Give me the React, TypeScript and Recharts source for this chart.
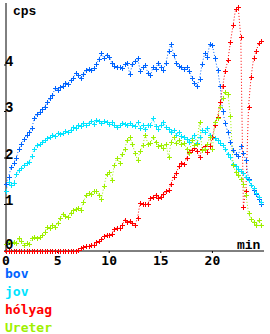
import { Legend, Line, LineChart, XAxis, YAxis } from "recharts"

const minutes = [
  0, 0.25, 0.5, 0.75, 1, 1.25, 1.5, 1.75, 2, 2.25,
  2.5, 2.75, 3, 3.25, 3.5, 3.75, 4, 4.25, 4.5, 4.75,
  5, 5.25, 5.5, 5.75, 6, 6.25, 6.5, 6.75, 7, 7.25,
  7.5, 7.75, 8, 8.25, 8.5, 8.75, 9, 9.25, 9.5, 9.75,
  10, 10.25, 10.5, 10.75, 11, 11.25, 11.5, 11.75, 12, 12.25,
  12.5, 12.75, 13, 13.25, 13.5, 13.75, 14, 14.25, 14.5, 14.75,
  15, 15.25, 15.5, 15.75, 16, 16.25, 16.5, 16.75, 17, 17.25,
  17.5, 17.75, 18, 18.25, 18.5, 18.75, 19, 19.25, 19.5, 19.75,
  20, 20.25, 20.5, 20.75, 21, 21.25, 21.5, 21.75, 22, 22.25,
  22.5, 22.75, 23, 23.25, 23.5, 23.75, 24, 24.25, 24.5, 24.75,
]

const bov = [
  1.45, 1.6, 1.8, 1.9, 2.0, 2.2, 2.3, 2.4, 2.5, 2.55,
  2.65, 2.85, 2.95, 2.98, 3.05, 3.1, 3.2, 3.28, 3.35, 3.5,
  3.47, 3.52, 3.55, 3.62, 3.6, 3.68, 3.72, 3.82, 3.78, 3.72,
  3.8, 3.9, 3.92, 3.9, 3.94, 4.02, 4.12, 4.25, 4.15, 4.22,
  4.18, 4.05, 3.98, 3.95, 3.96, 3.93, 4.02, 4.05, 3.8, 4.02,
  4.08, 4.15, 3.88, 3.95, 4.0, 3.82, 3.78, 3.95, 3.92, 4.05,
  3.95, 3.9, 4.05, 4.3, 4.45, 4.22, 4.05, 3.98, 3.95, 3.92,
  3.95, 3.88, 3.72, 3.62, 3.55, 3.7, 4.02, 4.25, 4.18, 4.45,
  4.42, 4.15, 3.9, 3.55, 3.0, 2.75, 2.55, 2.35, 2.18, 2.08,
  2.05, 2.25, 2.1, 1.95, 1.55, 1.42, 1.32, 1.22, 1.12, 1.02,
]

const jov = [
  1.3, 1.48, 1.42, 1.46, 1.65, 1.75, 1.78, 1.85, 1.9, 1.92,
  2.05, 2.2, 2.28, 2.3, 2.34, 2.38, 2.43, 2.46, 2.5, 2.48,
  2.53, 2.52, 2.54, 2.58, 2.56, 2.6, 2.67, 2.64, 2.71, 2.68,
  2.75, 2.72, 2.76, 2.8, 2.74, 2.82, 2.8, 2.76, 2.8, 2.78,
  2.74, 2.78, 2.72, 2.67, 2.7, 2.76, 2.74, 2.7, 2.76, 2.72,
  2.68, 2.78, 2.65, 2.7, 2.62, 2.72, 2.7, 2.86, 2.68, 2.62,
  2.72, 2.78, 2.66, 2.62, 2.55, 2.6, 2.5, 2.56, 2.48, 2.45,
  2.4, 2.35, 2.42, 2.5, 2.32, 2.45, 2.6, 2.55, 2.65, 2.5,
  2.45, 2.42, 2.38, 2.32, 2.28, 2.2, 2.08, 2.02, 1.88, 1.82,
  1.76, 1.72, 1.68, 1.6, 1.52, 1.42, 1.35, 1.25, 1.17, 1.05,
]

const holyag = [
  0, 0, 0, 0, 0, 0, 0, 0, 0, 0,
  0, 0, 0, 0, 0, 0, 0, 0, 0, 0,
  0, 0, 0, 0, 0, 0, 0, 0, 0.03, 0.06,
  0.09, 0.1, 0.1, 0.12, 0.13, 0.2, 0.22, 0.25, 0.33, 0.34,
  0.34, 0.36, 0.48, 0.5, 0.49, 0.55, 0.67, 0.62, 0.64, 0.6,
  0.55, 0.72, 1.04, 1.0, 1.0, 1.02, 1.14, 1.16, 1.2, 1.15,
  1.17, 1.22, 1.28, 1.31, 1.45, 1.6, 1.68, 1.82, 1.9, 1.88,
  2.0, 2.12, 2.18, 2.22, 2.15, 2.02, 2.2, 2.25, 2.12, 2.25,
  2.45, 2.72, 2.88, 3.2, 3.55, 3.88, 4.1, 4.5, 4.85, 5.2,
  5.25, 4.6, 0.95, 1.3, 3.1, 3.75, 4.15, 4.3, 4.47, 4.52,
]

const ureter = [
  0.15, 0.2, 0.17, 0.2, 0.18, 0.28, 0.22, 0.13, 0.17, 0.14,
  0.28, 0.3, 0.28, 0.3, 0.34, 0.4, 0.52, 0.5, 0.55, 0.52,
  0.6, 0.7, 0.8, 0.75, 0.73, 0.82, 0.88, 0.9, 0.93, 0.88,
  1.05, 1.2, 1.25, 1.22, 1.28, 1.3, 1.2, 1.12, 1.4, 1.65,
  1.7, 1.53, 1.85, 2.0, 1.9, 2.08, 2.2, 2.38, 2.45, 2.3,
  2.1, 1.95, 2.15, 2.28, 2.5, 2.3, 2.32, 2.45, 2.35, 2.25,
  2.28, 2.22, 2.3, 2.02, 2.35, 2.45, 2.32, 2.38, 2.3, 2.32,
  2.2, 2.1, 2.38, 2.28, 2.3, 2.78, 2.17, 2.2, 2.3, 2.45,
  2.2, 2.78, 2.86, 3.1, 3.3, 3.42, 3.38, 2.9, 1.85, 1.7,
  1.63, 1.55, 1.45, 1.2, 0.82, 0.68, 0.62, 0.55, 0.66, 0.56,
]

const xTicks = [0, 5, 10, 15, 20]
const yTicks = [0, 1, 2, 3, 4]

const series = [
  { key: "bov", name: "bov", color: "#0064ff" },
  { key: "jov", name: "jov", color: "#00e4ff" },
  { key: "holyag", name: "hólyag", color: "#ff0000" },
  { key: "ureter", name: "Ureter", color: "#9ef000" },
]

const rows = minutes.map((t, i) => ({
  t,
  bov: bov[i],
  jov: jov[i],
  holyag: holyag[i],
  ureter: ureter[i],
}))

const mono = "'DejaVu Sans Mono', monospace"
const courier = "'Liberation Mono', monospace"

// 5px "+" marker, pixel aligned
function plus(color: string) {
  return (p: any) => {
    if (p.cx == null || p.cy == null) return <g key={p.key} />
    const x = Math.round(p.cx)
    const y = Math.round(p.cy)
    return (
      <path
        key={p.key}
        d={`M${x - 2},${y + 0.5}H${x + 3}M${x + 0.5},${y - 2}V${y + 3}`}
        stroke={color}
        strokeWidth={1}
        fill="none"
        shapeRendering="crispEdges"
      />
    )
  }
}

function YTick({ x, y, payload }: any) {
  // the 0 label sits just above the x axis
  const dy = payload.value === 0 ? -2 : 1
  return (
    <text x={x + 3} y={y + dy} fontFamily={courier} fontWeight="bold" fontSize={14} fill="#000">
      {payload.value}
    </text>
  )
}

function XTick({ x, y, payload }: any) {
  return (
    <text x={x} y={y + 10} textAnchor="middle" fontFamily={mono} fontWeight="bold" fontSize={13} fill="#000">
      {payload.value}
    </text>
  )
}

function LegendList() {
  return (
    <div style={{ fontFamily: mono, fontWeight: "bold", fontSize: 13, lineHeight: "12px" }}>
      {series.map((s) => (
        <div key={s.key} style={{ color: s.color, marginBottom: 6 }}>
          {s.name}
        </div>
      ))}
    </div>
  )
}

export default function App() {
  return (
    <div style={{ position: "absolute", left: 0, top: 0, background: "#fff" }}>
      <LineChart width={270} height={334} data={rows} margin={{ top: 3, right: 6, bottom: 63, left: 0 }}>
        <XAxis
          dataKey="t"
          type="number"
          domain={[0, 25]}
          ticks={xTicks}
          tick={<XTick />}
          tickSize={2}
          height={20}
          stroke="#000"
          label={{
            value: "min",
            content: () => (
              <text x={237} y={249} fontFamily={courier} fontWeight="bold" fontSize={13} fill="#000">
                min
              </text>
            ),
          }}
        />
        <YAxis
          type="number"
          domain={[0, 5.333]}
          ticks={yTicks}
          tick={<YTick />}
          tickSize={2}
          width={6}
          stroke="#000"
          label={{
            value: "cps",
            content: () => (
              <text x={13} y={15} fontFamily={courier} fontWeight="bold" fontSize={13} fill="#000">
                cps
              </text>
            ),
          }}
        />
        <Legend
          layout="vertical"
          align="center"
          verticalAlign="middle"
          wrapperStyle={{ left: 5, top: 268, width: 120 }}
          content={() => <LegendList />}
        />
        {series.map((s) => (
          <Line
            key={s.key}
            type="linear"
            dataKey={s.key}
            name={s.name}
            stroke={s.color}
            strokeWidth={1}
            strokeDasharray="1 2"
            dot={plus(s.color)}
            activeDot={false}
            isAnimationActive={false}
          />
        ))}
      </LineChart>
    </div>
  )
}
